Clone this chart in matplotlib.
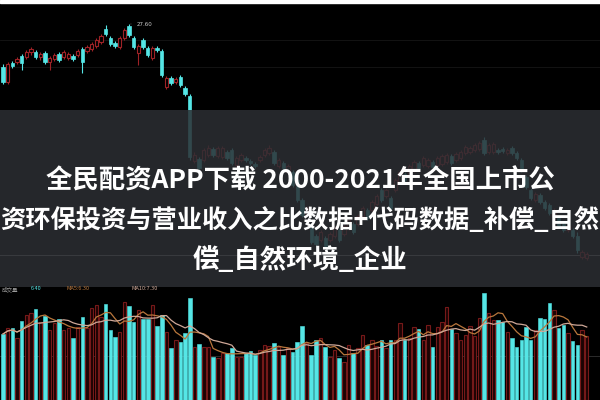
import numpy as np
import pandas as pd
import matplotlib
matplotlib.use('Agg')
import matplotlib.pyplot as plt
from matplotlib.patches import Rectangle

plt.rcParams['font.family'] = ['Noto Sans CJK SC', 'DejaVu Sans']

# daily candles (price)
open_ = [23.3, 21.8, 23.7, 23.8, 24.4, 24.3, 24.8, 24.8, 24.3, 24.7,
         23.8, 24.1, 24.6, 24.3, 24.2, 24.4, 24.5, 25.1, 24.9, 25.1,
         25.4, 25.8, 27.1, 26.2, 25.7, 25.3, 26.2, 27.4, 26.2, 24.7,
         26.0, 25.2, 24.2, 25.2, 24.9, 21.3, 22.2, 21.8, 22.3, 21.2,
         20.4, 13.9, 14.1, 14.0, 14.5, 15.1, 14.4, 14.3, 14.8, 15.0,
         13.5, 14.0, 14.2, 13.9, 13.6, 14.0, 14.5, 14.7, 14.8, 13.4,
         13.7, 12.8, 12.8, 12.0, 10.0, 8.6, 7.2, 6.4, 6.0, 6.2,
         6.0, 6.4, 7.0, 6.6, 7.2, 7.6, 7.6, 8.4, 9.0, 9.0,
         9.6, 11.0, 10.4, 10.2, 11.0, 11.8, 12.6, 12.4, 13.0, 13.7,
         13.5, 13.4, 13.8, 13.5, 13.6, 13.8, 14.4, 14.0, 14.2, 14.7,
         14.8, 15.0, 15.1, 16.0, 14.8, 14.8, 15.0, 15.1, 14.7, 15.2,
         14.7, 14.0, 12.3, 11.0, 10.0, 10.5, 9.8, 9.5, 8.4, 8.2,
         7.6, 7.0, 7.0, 6.4, 4.3, 4.2]
close = [21.8, 23.6, 23.4, 24.1, 23.7, 24.8, 25.1, 24.3, 24.6, 23.8,
         24.2, 24.5, 24.0, 24.8, 24.6, 24.1, 24.9, 23.8, 25.3, 25.6,
         26.0, 26.4, 26.6, 25.6, 25.4, 26.2, 27.0, 26.5, 25.3, 25.4,
         25.3, 24.5, 25.2, 25.0, 22.5, 22.2, 21.7, 22.1, 21.5, 20.6,
         14.3, 14.5, 13.2, 15.0, 15.2, 14.5, 15.2, 15.2, 14.2, 13.7,
         14.2, 14.5, 14.0, 13.7, 13.4, 14.3, 15.0, 15.2, 13.7, 14.0,
         13.2, 13.4, 11.5, 10.0, 8.5, 9.2, 5.8, 5.6, 6.8, 5.4,
         6.6, 7.2, 6.0, 7.4, 8.0, 6.8, 8.4, 9.2, 8.2, 9.8,
         10.4, 10.0, 11.0, 9.2, 12.0, 12.8, 12.0, 13.4, 13.8, 13.2,
         14.2, 14.0, 13.3, 14.2, 14.4, 14.5, 13.7, 14.6, 14.8, 15.3,
         15.2, 15.5, 15.7, 14.7, 15.5, 15.6, 14.8, 14.9, 15.0, 14.7,
         14.2, 13.0, 11.3, 10.2, 10.6, 9.8, 9.2, 8.7, 9.0, 7.4,
         7.0, 7.4, 6.4, 5.0, 4.8, 4.6]
high = [23.6, 23.8, 23.9, 24.3, 24.6, 25.0, 25.3, 25.0, 24.8, 24.9,
        24.4, 24.7, 24.8, 25.0, 24.8, 24.6, 25.1, 25.3, 25.5, 25.8,
        26.2, 26.6, 27.5, 26.4, 25.9, 26.4, 27.2, 27.6, 26.4, 25.6,
        26.2, 25.4, 25.4, 25.4, 25.1, 22.4, 22.4, 22.3, 22.5, 21.4,
        20.6, 14.8, 14.3, 15.2, 15.5, 15.3, 15.4, 15.4, 15.0, 15.2,
        14.4, 14.7, 14.4, 14.1, 13.8, 14.5, 15.2, 15.5, 15.0, 14.2,
        13.9, 13.6, 13.0, 12.2, 10.2, 9.4, 7.4, 6.6, 7.0, 6.4,
        6.8, 7.4, 7.2, 7.6, 8.2, 7.8, 8.6, 9.4, 9.2, 10.0,
        10.6, 11.2, 11.2, 10.4, 12.2, 13.0, 12.8, 13.6, 14.0, 13.9,
        14.4, 14.2, 14.0, 14.4, 14.6, 14.7, 14.6, 14.8, 15.0, 15.5,
        15.4, 15.7, 15.9, 16.3, 15.7, 15.8, 15.2, 15.3, 15.2, 15.4,
        14.9, 14.2, 12.5, 11.2, 10.8, 10.7, 10.0, 9.7, 9.2, 8.4,
        7.8, 7.6, 7.2, 6.8, 5.0, 4.8]
low = [21.6, 21.6, 23.2, 23.6, 23.0, 24.1, 24.5, 24.1, 24.0, 23.6,
       23.0, 23.9, 23.8, 24.1, 24.0, 23.9, 24.3, 22.7, 24.7, 24.9,
       25.2, 25.6, 26.4, 25.4, 25.2, 25.1, 26.0, 26.3, 25.1, 23.5,
       25.1, 24.3, 24.0, 24.8, 22.3, 21.1, 21.5, 21.6, 21.3, 20.4,
       14.0, 13.7, 13.0, 13.8, 14.3, 14.3, 14.2, 14.1, 14.0, 13.5,
       13.3, 13.8, 13.8, 13.5, 13.2, 13.8, 14.3, 14.5, 13.5, 13.2,
       13.0, 12.6, 11.3, 9.8, 8.3, 8.4, 5.6, 5.4, 5.8, 5.2,
       5.8, 6.2, 5.8, 6.4, 7.0, 6.6, 7.4, 8.2, 8.0, 8.8,
       9.4, 9.8, 10.2, 9.0, 10.8, 11.6, 11.8, 12.2, 12.8, 13.0,
       13.3, 13.2, 13.1, 13.3, 13.4, 13.6, 13.5, 13.8, 14.0, 14.5,
       14.6, 14.8, 14.9, 14.5, 14.6, 14.6, 14.6, 14.7, 14.5, 14.5,
       14.0, 12.8, 11.1, 10.0, 9.8, 9.6, 9.0, 8.5, 8.2, 7.2,
       6.8, 6.8, 6.2, 4.7, 4.1, 4.0]
volume = [6.6, 7.2, 7.2, 6.2, 7.9, 8.5, 8.7, 9.1, 7.8, 8.4,
          7.0, 7.7, 8.1, 7.0, 7.2, 6.2, 7.3, 8.3, 7.2, 9.2,
          9.5, 8.3, 9.6, 7.0, 6.3, 6.8, 9.8, 9.4, 7.8, 9.0,
          8.1, 8.1, 9.5, 7.4, 8.5, 6.8, 5.2, 6.0, 5.8, 6.7,
          10.2, 5.3, 5.6, 5.3, 5.3, 4.3, 4.2, 4.7, 4.7, 5.2,
          4.3, 4.3, 4.7, 4.9, 4.5, 5.0, 5.5, 5.4, 5.7, 5.3,
          4.5, 5.2, 4.8, 5.8, 7.4, 5.7, 4.5, 6.0, 6.2, 5.3,
          4.3, 5.0, 4.2, 3.8, 5.5, 4.7, 5.2, 6.5, 5.5, 6.0,
          5.4, 6.0, 5.2, 6.0, 6.0, 7.7, 6.0, 6.2, 7.3, 7.1,
          6.0, 7.5, 5.3, 7.3, 7.8, 9.3, 7.1, 6.7, 6.0, 6.5,
          7.4, 6.4, 8.2, 10.7, 8.7, 8.0, 8.0, 7.8, 6.8, 6.2,
          5.3, 6.0, 7.3, 6.0, 7.0, 8.2, 8.1, 9.7, 9.0, 7.2,
          7.5, 6.7, 5.9, 5.5, 7.0, 6.4]

title_lines = ['全民配资APP下载 2000-2021年全国上市公',
               '资环保投资与营业收入之比数据+代码数据_补偿_自然',
               '偿_自然环境_企业']

UP = '#9e2226'
DOWN = '#55e6e6'
BG = '#000000'

o = np.array(open_)
c = np.array(close)
h = np.array(high)
l = np.array(low)
v = np.array(volume)
x = np.arange(len(o))
up = c >= o

fig = plt.figure(figsize=(6, 4), dpi=100, facecolor=BG)
ax = fig.add_axes([0, 0.275, 1, 0.725], facecolor=BG)
axv = fig.add_axes([0, 0, 1, 0.275], facecolor=BG)

# price pane
for gy in [26.0, 23.3]:
    ax.axhline(gy, color='#161616', lw=0.6, zorder=0)
ax.axhline(4.5, color='#8a8a8a', lw=0.7, zorder=0)
ax.vlines(x[~up], l[~up], h[~up], color=DOWN, lw=0.8, zorder=2)
ax.vlines(x[up], l[up], h[up], color=UP, lw=0.8, zorder=2)
body_lo = np.minimum(o, c)
body_h = np.maximum(np.abs(c - o), 0.12)
ax.bar(x[~up], body_h[~up], bottom=body_lo[~up], width=0.72,
       color=DOWN, edgecolor=DOWN, lw=0.5, zorder=3)
ax.bar(x[up], body_h[up], bottom=body_lo[up], width=0.72,
       color=BG, edgecolor=UP, lw=0.8, zorder=3)
top = int(np.argmax(h))
ax.annotate(f'{h[top]:.2f}', xy=(top + 0.4, h[top]), xytext=(top + 1.6, h[top]),
            color='#cfcfcf', fontsize=4, va='center', family='DejaVu Sans',
            arrowprops=dict(arrowstyle='-', color='#cfcfcf', lw=0.5))
ax.set_xlim(-0.64, 127.84)
ax.set_ylim(1.0, 30.0)
ax.axis('off')

# volume pane
axv.axhline(4.4, color='#333333', lw=0.6, zorder=0)
axv.bar(x[~up], v[~up], width=0.75, color=DOWN, edgecolor=DOWN, lw=0.4, zorder=2)
axv.bar(x[up], v[up], width=0.75, color='#1c0303', edgecolor='#751919', lw=0.8, zorder=2)
ma5 = pd.Series(v).rolling(5, min_periods=1).mean()
ma10 = pd.Series(v).rolling(10, min_periods=1).mean()
axv.plot(x, ma5, color='#b9773c', lw=0.9, zorder=3)
axv.plot(x, ma10, color='#cfa898', lw=0.9, zorder=3)
axv.set_xlim(-0.64, 127.84)
axv.set_ylim(0, 11.0)
axv.axis('off')

legend_parts = [('成交量', '#9a9a9a'), (f'{v[-1]:.2f}', DOWN),
                (f'MA5:{ma5.iloc[-1]:.2f}', '#b9773c'),
                (f'MA10:{ma10.iloc[-1]:.2f}', '#cfa898')]
lx = 0.003
for txt, col in legend_parts:
    fig.text(lx, 0.2775, txt, color=col, fontsize=4, va='center', zorder=7)
    lx += 0.012 * len(txt) + 0.012

# white strip along the top edge
fig.add_artist(Rectangle((0, 0.9925), 1, 0.0075, transform=fig.transFigure,
                         color='white', zorder=6))

# translucent banner with the headline
fig.add_artist(Rectangle((0, 0.2825), 1, 0.4425, transform=fig.transFigure,
                         color='#2c2e33', alpha=0.86, lw=0, zorder=5))
for ty, line, fs in zip([0.5475, 0.45, 0.35], title_lines, [19, 18.2, 19]):
    fig.text(0.5, ty, line, color='white', fontsize=fs, fontweight='bold',
             ha='center', va='center', zorder=8)

fig.savefig('out.png', dpi=100, facecolor=BG)
